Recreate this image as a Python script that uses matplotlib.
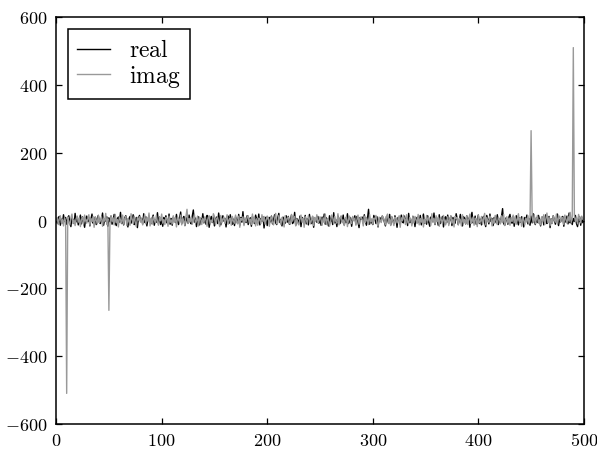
import matplotlib
matplotlib.use("Agg")
import numpy as np
import matplotlib.pyplot as plt
from matplotlib.ticker import FuncFormatter

plt.rcParams['mathtext.fontset'] = 'cm'

# spectrum values (500 bins)
real = [
    3, -8, 6, 12, -14, 4, -7, 17, -3, 9,
    -11, 5, 14, -6, -18, 8, 2, -9, 21, -4,
    7, -13, -2, 16, -10, 11, -5, -20, 6, 13,
    -3, 9, -16, 4, 19, -8, -1, 10, -12, 7,
    15, -6, -9, 3, 22, -14, 5, -2, 11, -17,
    8, -4, 13, -11, 2, 18, -7, -15, 6, 10,
    -5, 24, -9, 1, -13, 8, 14, -3, -19, 5,
    12, -8, 3, 17, -12, -4, 9, -21, 7, 15,
    -2, 6, -10, 20, -6, 11, -16, 4, 13, -1,
    -9, 7, 16, -14, 2, -5, 23, -8, 10, -12,
    4, -17, 9, 1, 14, -7, -3, 19, -11, 6,
    -14, 10, 3, -6, 18, -2, -12, 8, 25, -9,
    5, 12, -15, -1, 9, -8, 16, -4, -10, 13,
    31, -5, 7, -18, 2, 11, -13, 6, -3, 20,
    -7, 4, -11, 15, 8, -20, 1, 12, -6, 9,
    -16, 3, 10, -9, 22, -4, -13, 7, 14, -2,
    6, -19, 5, 13, -8, 17, -1, -11, 4, -15,
    11, 2, -7, 18, -14, 9, -5, 26, -10, 3,
    -6, 14, -12, 1, 8, -17, 12, -3, -9, 16,
    4, -8, 19, -13, 6, -2, 11, -22, 7, 10,
    -15, 5, 9, -4, 13, -10, 2, 17, -7, -12,
    8, 21, -6, 3, -16, 10, -1, -8, 14, -5,
    12, -11, 4, 16, -9, -3, 24, -14, 6, 1,
    -7, 13, -18, 9, 2, -6, 15, -10, 5, -13,
    18, -2, -9, 11, -20, 7, 3, -5, 12, -8,
    6, -14, 10, -3, 19, -11, 8, 1, -16, 14,
    -4, 9, -12, 23, -7, 2, -18, 13, 5, -9,
    11, -3, 16, -13, 4, -6, 20, -9, -2, 8,
    -17, 7, 1, 14, -10, 12, -5, -21, 9, 4,
    10, -8, 17, -2, -14, 6, 33, -11, 3, -6,
    -12, 15, 5, -9, 11, -19, 4, 8, -3, 13,
    7, -5, -16, 12, 2, -8, 18, -13, 10, -1,
    -9, 14, 3, -20, 9, 6, -11, 16, -4, -7,
    13, -2, 8, -15, 21, -6, 1, -10, 12, 5,
    -18, 9, -4, 11, -7, 15, -13, 3, 19, -8,
    2, -11, 14, -5, -17, 10, 6, -3, 22, -12,
    8, 4, -14, 17, -9, -1, 12, -19, 7, 11,
    -6, 16, -10, 3, 13, -15, 9, -2, -8, 20,
    5, -12, 1, 18, -4, -16, 11, 6, -10, 14,
    -3, 7, -20, 10, 24, -7, -5, 13, -11, 2,
    16, -9, 4, -13, 8, 12, -6, -18, 15, 3,
    -10, 19, -3, 6, -15, 9, 1, -7, 17, -12,
    4, -6, 13, 35, -9, -14, 7, 2, -11, 10,
    18, -4, -8, 12, -17, 5, 14, -2, -13, 8,
    -5, 11, 3, -19, 9, -1, 16, -10, 6, -14,
    13, -7, 20, -3, -12, 8, -6, 15, 2, -16,
    7, 10, -13, 4, 17, -9, -2, 12, -21, 5,
    -8, 14, 1, -11, 6, 19, -15, 3, -4, 9,
    12, -17, 8, -5, 13, -10, 22, -7, 1, -12,
    6, -3, 15, -9, -18, 4, 11, -14, 9, -6,
]

imag = [
    0, 9, -12, 5, 14, -7, 3, -16, 8, -2,
    -510, 11, -4, -13, 7, 19, -9, 2, -15, 6,
    13, -5, 8, -18, 3, 10, -11, 16, -1, -8,
    4, 17, -14, 6, -3, 12, -20, 9, 1, -10,
    15, -6, 2, 11, -17, 7, -2, 21, -12, 5,
    -265, -9, 14, -4, 8, -13, 18, -7, 3, -19,
    10, 2, -8, 16, -11, 5, 12, -15, 6, -3,
    -14, 20, 4, -9, 13, -6, -18, 9, 1, 11,
    -5, 7, -13, 3, 17, -10, 8, -2, 22, -16,
    6, -11, 12, 1, -7, 15, -4, -14, 10, -1,
    19, -8, 3, -12, 9, 5, -17, 13, -6, 2,
    -10, 14, -3, 8, -19, 11, 4, -6, 16, -13,
    7, -2, -15, 12, 33, -9, 6, -4, 10, -11,
    3, 18, -8, -1, 13, -16, 9, 5, -12, 7,
    -6, 11, 2, -17, 8, 14, -10, 1, -5, 20,
    12, -13, 6, 9, -4, -18, 15, -7, 3, 10,
    -9, 4, 17, -11, 2, 7, -14, 12, -2, -8,
    16, -5, -10, 13, -20, 6, 1, 11, -15, 8,
    -3, 9, 14, -7, 4, -12, 19, -6, 10, -16,
    5, -14, 7, 2, -9, 17, -3, 12, -11, 1,
    13, 8, -17, 4, 11, -5, -13, 6, 21, -10,
    -7, 15, 3, -12, 9, 1, -19, 14, -4, 6,
    10, -6, -11, 18, -2, 8, 12, -16, 5, -8,
    -13, 4, 16, -5, 7, -20, 11, 2, -9, 14,
    6, -10, 1, 13, -15, 9, -3, 17, -7, -1,
    11, 3, -14, 8, -6, 19, -12, 5, 2, -17,
    -4, 16, 9, -10, 12, -3, -8, 20, -13, 7,
    14, -7, 2, -15, 6, 11, -18, 4, 13, -5,
    -9, 12, -1, 7, -14, 3, 16, -11, 8, 10,
    2, -16, 13, -6, 9, -2, -12, 18, -4, 5,
    -11, 7, 4, 15, -8, -17, 10, 1, -6, 13,
    8, -3, -13, 11, 19, -9, 5, -15, 12, -2,
    -15, 10, 6, -7, 2, 14, -20, 8, -1, 16,
    5, -12, 17, -4, -10, 9, 3, -16, 13, -7,
    12, 1, -9, 18, -13, 6, -5, 11, -19, 4,
    -8, 15, -2, 9, 3, -14, 20, -6, 7, -11,
    14, -4, 10, -17, 8, 2, -10, 15, -3, -13,
    -2, 11, -15, 5, 13, -8, 4, -19, 12, 6,
    9, -13, 7, 1, -16, 17, -6, 3, -10, 14,
    -12, 5, 19, -9, -3, 10, -14, 7, 2, -18,
    16, -7, -4, 12, -11, 6, 21, -13, 9, -2,
    -5, 13, 8, -16, 4, -9, 15, -1, -12, 10,
    3, -10, 14, -6, 18, -15, 2, 11, -8, 7,
    -14, 9, -3, 16, -7, 12, -11, 5, 20, -4,
    8, -17, 10, 1, -13, 7, -5, 14, -9, 3,
    265, 12, -6, 18, -10, 4, 15, -8, 2, -13,
    11, -3, 17, -12, 6, 22, -7, 9, -15, 5,
    -9, 14, 2, -5, 19, -11, 8, 13, -4, 10,
    7, -12, 16, 3, -8, 12, -2, 24, -6, 11,
    510, 15, -4, 9, -10, 18, 6, -7, 13, 4,
]

x_ticks = [0, 100, 200, 300, 400, 500]
y_ticks = [-600, -400, -200, 0, 200, 400, 600]

fig = plt.figure(figsize=(5.97, 4.5), dpi=100)
ax = fig.add_axes([0.094, 0.058, 0.884, 0.904])

n = np.arange(len(real))
ax.plot(n, real, color='black', lw=1.0, label=r'$\mathrm{real}$')
ax.plot(n, imag, color='#999999', lw=1.0, label=r'$\mathrm{imag}$')

ax.set_xlim(0, 500)
ax.set_ylim(-600, 600)
ax.set_xticks(x_ticks)
ax.set_yticks(y_ticks)
fmt = FuncFormatter(lambda v, p: r'$%d$' % v)
ax.xaxis.set_major_formatter(fmt)
ax.yaxis.set_major_formatter(fmt)
ax.tick_params(direction='in', top=True, right=True, length=4, width=0.9,
               labelsize=13, pad=6)
for s in ax.spines.values():
    s.set_linewidth(1.1)

leg = ax.legend(loc='upper left', fontsize=17, frameon=True, fancybox=False,
                edgecolor='black', framealpha=1, handlelength=1.4,
                handletextpad=0.8, borderpad=0.4, labelspacing=0.05,
                borderaxespad=0.5)
leg.get_frame().set_linewidth(1.1)

fig.savefig('out.png', dpi=100)
